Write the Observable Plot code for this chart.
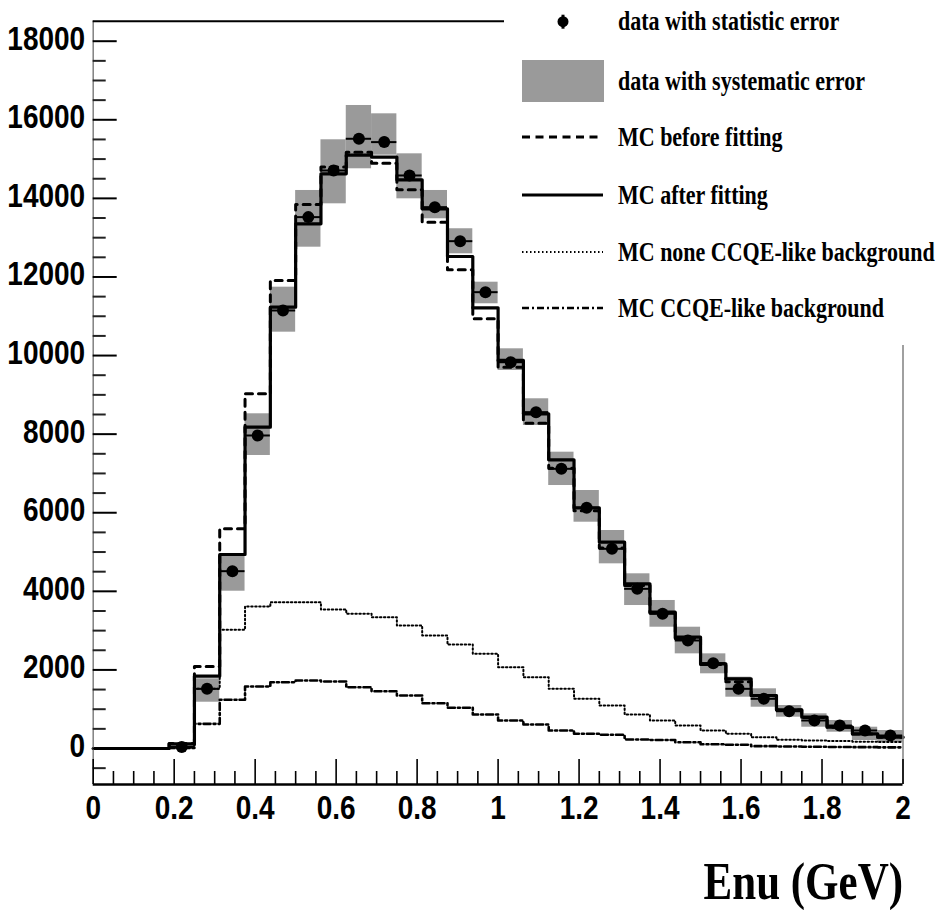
<!DOCTYPE html>
<html><head><meta charset="utf-8">
<script src="https://cdn.jsdelivr.net/npm/d3@7"></script>
<script src="https://cdn.jsdelivr.net/npm/@observablehq/plot@0.6"></script>
<style>
body{margin:0;background:#fff;}
#wrap{position:relative;width:937px;height:910px;}
#legend{position:absolute;left:504px;top:0;width:433px;height:345px;background:#fff;}
</style></head><body><div id="wrap"></div>
<script>
// Bins of reconstructed neutrino energy (GeV)
const binLow = [0,0.0625,0.125,0.1875,0.25,0.3125,0.375,0.4375,0.5,0.5625,0.625,0.6875,0.75,0.8125,0.875,0.9375,1,1.0625,1.125,1.1875,1.25,1.3125,1.375,1.4375,1.5,1.5625,1.625,1.6875,1.75,1.8125,1.875,1.9375];
const binHigh = [0.0625,0.125,0.1875,0.25,0.3125,0.375,0.4375,0.5,0.5625,0.625,0.6875,0.75,0.8125,0.875,0.9375,1,1.0625,1.125,1.1875,1.25,1.3125,1.375,1.4375,1.5,1.5625,1.625,1.6875,1.75,1.8125,1.875,1.9375,2];

// Data with statistic error
const dataVal = [null,null,null,40,1519,4513,7966,11147,13523,14710,15517,15432,14583,13777,12911,11613,9830,8560,7118,6126,5082,4064,3428,2749,2172,1519,1265,949,713,585,458,331];
const statErr = [null,null,null,20,39,67,89,106,116,121,125,124,121,117,114,108,99,93,84,78,71,64,59,52,47,39,36,31,27,24,21,18];
// Data with systematic error (band bottom / top)
const sysLo = [null,null,null,-30,1178,4003,7457,10595,12758,13862,14753,15100,13989,13481,12590,11318,9620,8220,6693,5759,4700,3639,3087,2409,1901,1306,1051,797,542,415,204,160];
const sysHi = [null,null,null,110,1774,4912,8518,11740,14201,15491,16364,16152,15134,14201,13227,11867,10172,8900,7541,6566,5548,4446,3767,3087,2409,1815,1519,1094,883,713,542,458];
// Monte Carlo
const mcBefore = [0,0,0,130,2087,5591,9027,11911,13845,14800,15176,14896,14219,13395,12183,10936,9704,8280,7130,6050,5100,4150,3450,2800,2140,1700,1340,980,790,540,370,285];
const mcAfter = [0,0,0,120,1840,4937,8178,11231,13353,14625,15100,15050,14473,13735,12521,11216,9875,8518,7347,6126,5250,4191,3469,2833,2155,1774,1349,985,797,542,374,288];
const bgNonCCQE = [0,0,0,25,1520,3021,3614,3723,3723,3540,3428,3342,3130,2876,2647,2409,2070,1815,1519,1265,1094,865,713,585,458,374,288,221,204,190,175,165];
const bgCCQE = [0,0,0,15,628,1239,1578,1688,1731,1705,1560,1458,1349,1153,1036,865,713,611,458,374,350,230,215,160,110,95,60,50,45,40,35,30];

// Axes
const xDomain = [0, 2];
const yDomain = [-916, 18509];
const xMajor = [0,0.2,0.4,0.6,0.8,1,1.2,1.4,1.6,1.8,2];
const xTickLabels = ["0","0.2","0.4","0.6","0.8","1","1.2","1.4","1.6","1.8","2"];
const xMinor = [0.05,0.1,0.15,0.25,0.3,0.35,0.45,0.5,0.55,0.65,0.7,0.75,0.85,0.9,0.95,1.05,1.1,1.15,1.25,1.3,1.35,1.45,1.5,1.55,1.65,1.7,1.75,1.85,1.9,1.95];
const yMajor = [0,2000,4000,6000,8000,10000,12000,14000,16000,18000];
const yTickLabels = ["0","2000","4000","6000","8000","10000","12000","14000","16000","18000"];
const yMinor = [-500,500,1000,1500,2500,3000,3500,4500,5000,5500,6500,7000,7500,8500,9000,9500,10500,11000,11500,12500,13000,13500,14500,15000,15500,16500,17000,17500];
const xTitle = "Enu (GeV)";

const legendLabels = ["data with statistic error","data with systematic error","MC before fitting","MC after fitting","MC none CCQE-like background","MC CCQE-like background"];

const bins = binLow.map((lo, i) => ({
  lo, hi: binHigh[i], mid: (lo + binHigh[i]) / 2,
  data: dataVal[i], stat: statErr[i], sLo: sysLo[i], sHi: sysHi[i],
  before: mcBefore[i], after: mcAfter[i], nonq: bgNonCCQE[i], q: bgCCQE[i]
}));
const pts = bins.filter(d => d.data != null);
const stepOf = key => [...bins.map(d => ({x: d.lo, y: d[key]})), {x: binHigh[binHigh.length - 1], y: bins[bins.length - 1][key]}];

const SANS = "'Liberation Sans', Arial, Helvetica, sans-serif";
const SERIF = "'Liberation Serif', 'Times New Roman', serif";
const GRAY = "#9a9a9a";

const plot = Plot.plot({
  width: 937, height: 910,
  marginLeft: 92.7, marginRight: 34.5, marginTop: 20.7, marginBottom: 126,
  style: {fontFamily: SANS, background: "#fff", color: "#000"},
  x: {domain: xDomain, label: null},
  y: {domain: yDomain, label: null},
  marks: [
    Plot.rect(pts, {x1: "lo", x2: "hi", y1: "sLo", y2: "sHi", fill: GRAY}),
    Plot.line(stepOf("nonq"), {x: "x", y: "y", curve: "step-after", stroke: "#000", strokeWidth: 2, strokeDasharray: "1.5,2.5"}),
    Plot.line(stepOf("q"), {x: "x", y: "y", curve: "step-after", stroke: "#000", strokeWidth: 2.6, strokeDasharray: "7,3,2,3"}),
    Plot.line(stepOf("before"), {x: "x", y: "y", curve: "step-after", stroke: "#000", strokeWidth: 3, strokeDasharray: "7,6"}),
    Plot.line(stepOf("after"), {x: "x", y: "y", curve: "step-after", stroke: "#000", strokeWidth: 3.2}),
    Plot.ruleY(pts, {x1: "lo", x2: "hi", y: "data", stroke: "#000", strokeWidth: 2}),
    Plot.ruleX(pts, {x: "mid", y1: d => d.data - d.stat, y2: d => d.data + d.stat, stroke: "#000", strokeWidth: 3}),
    Plot.dot(pts, {x: "mid", y: "data", r: 6, fill: "#000", stroke: "none"}),
    // frame
    Plot.ruleX([xDomain[0]], {stroke: "#808080", strokeWidth: 1.5}),
    Plot.ruleX([xDomain[1]], {stroke: "#808080", strokeWidth: 1.5}),
    Plot.ruleY([yDomain[1]], {stroke: "#000", strokeWidth: 2}),
    Plot.ruleY([yDomain[0]], {stroke: "#000", strokeWidth: 2.5}),
    // axes: ticks pointing inward
    Plot.axisY({ticks: yMajor, tickSize: 24, dx: 24, tickFormat: () => "", stroke: "#000", strokeWidth: 2, label: null}),
    Plot.axisY({ticks: yMinor, tickSize: 13, dx: 13, tickFormat: () => "", stroke: "#222", strokeWidth: 2, label: null}),
    Plot.axisY({ticks: yMajor, tickSize: 0, tickPadding: 8, dy: -2, tickFormat: d => yTickLabels[yMajor.indexOf(d)], fontSize: 28, fontWeight: "bold", fill: "#000", label: null}),
    Plot.axisX({ticks: xMajor, tickSize: 25, dy: -25, tickFormat: () => "", stroke: "#000", strokeWidth: 1.6, label: null}),
    Plot.axisX({ticks: xMinor, tickSize: 13, dy: -13, tickFormat: () => "", stroke: "#000", strokeWidth: 1.6, label: null}),
    Plot.axisX({ticks: xMajor, tickSize: 0, tickPadding: 11, tickFormat: d => xTickLabels[xMajor.indexOf(d)], fontSize: 28, fontWeight: "bold", fill: "#000", label: null}),
    Plot.text([xTitle], {frameAnchor: "bottom-right", textAnchor: "end", lineAnchor: "bottom", dy: 114, fontSize: 43, fontWeight: "bold", fontFamily: SERIF, fill: "#000"})
  ]
});

document.getElementById("wrap").appendChild(plot);

// vertical stretch of text, as in the original
d3.select(plot).selectAll("text").each(function() {
  const t = this.getAttribute("transform") || "";
  const isTitle = this.textContent === xTitle;
  this.setAttribute("transform", t + (isTitle ? " scale(1,1.25)" : " scale(1,1.17)"));
});

// Legend (white panel over top-right of frame)
const lg = d3.select("#wrap").append("div").attr("id", "legend")
  .append("svg").attr("width", 433).attr("height", 345);
const rowY = [21.7, 81, 137, 195, 252, 308];
lg.append("line").attr("x1", 59).attr("x2", 59).attr("y1", rowY[0] - 7).attr("y2", rowY[0] + 7).attr("stroke", "#000").attr("stroke-width", 3);
lg.append("circle").attr("cx", 59).attr("cy", rowY[0]).attr("r", 5.5).attr("fill", "#000");
lg.append("rect").attr("x", 18).attr("y", 60).attr("width", 82).attr("height", 42).attr("fill", GRAY);
const lineStyles = [
  {w: 3.2, dash: "8,5.5"},
  {w: 3.2, dash: null},
  {w: 2, dash: "1.5,2.5"},
  {w: 2.6, dash: "7,3,2,3"}
];
lineStyles.forEach((s, k) => {
  const l = lg.append("line").attr("x1", 18).attr("x2", 99).attr("y1", rowY[k + 2]).attr("y2", rowY[k + 2])
    .attr("stroke", "#000").attr("stroke-width", s.w);
  if (s.dash) l.attr("stroke-dasharray", s.dash);
});
legendLabels.forEach((lab, k) => {
  lg.append("text").attr("transform", `translate(114,${rowY[k] + 8.5}) scale(1,1.25)`)
    .attr("font-family", SERIF).attr("font-weight", "bold").attr("font-size", 22).attr("fill", "#000")
    .text(lab);
});
</script>
</body></html>
